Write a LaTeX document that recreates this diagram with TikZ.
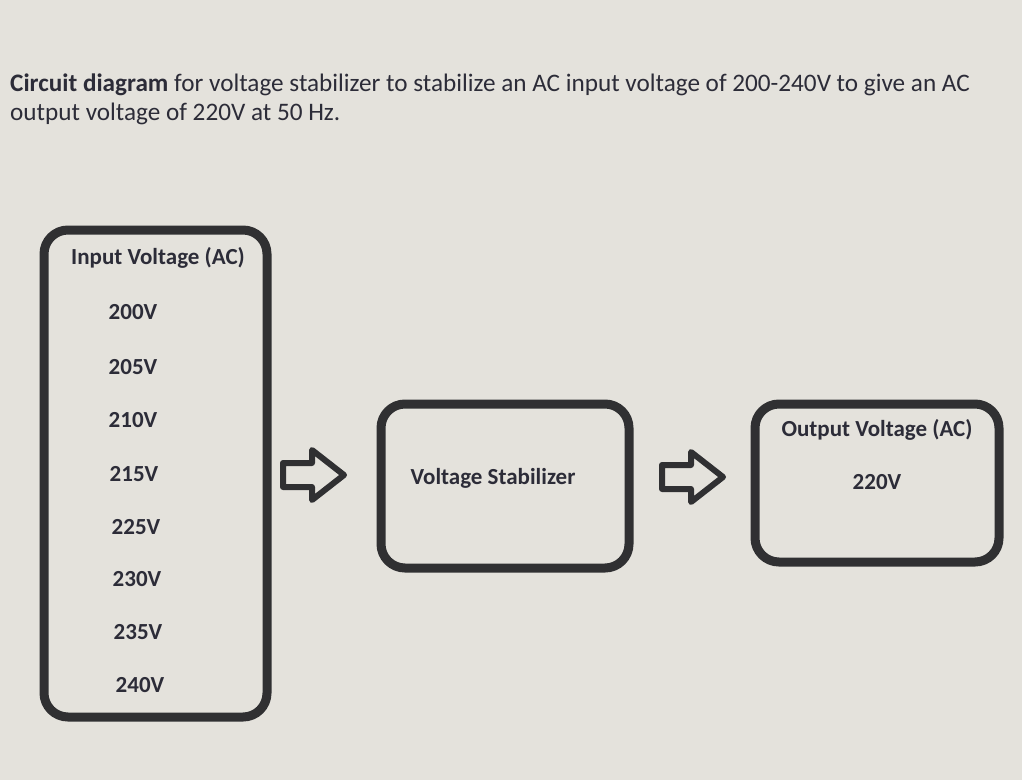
\documentclass[tikz,border=0pt]{standalone}
\usepackage{fontspec}
\setmainfont{Carlito}
\definecolor{bgc}{HTML}{E4E2DC}
\definecolor{txt}{HTML}{2C2C38}
\definecolor{edge}{HTML}{303032}
\tikzset{
  blk/.style={draw=edge, line width=9pt, rounded corners=24pt},
  lbl/.style={text=txt, font=\fontsize{23}{26}\selectfont\bfseries, inner sep=0pt},
  ttl/.style={text=txt, font=\fontsize{25.2}{28}\selectfont, anchor=west, inner sep=0pt},
  barrow/.style={draw=edge, line width=6pt, line join=round}
}
\begin{document}
\begin{tikzpicture}[x=1pt,y=-1pt]
\fill[bgc] (0,0) rectangle (1022,780);
\useasboundingbox (0,0) rectangle (1022,780);
\node[ttl] (t1) at (10,85) {\textbf{Circuit diagram} for voltage stabilizer to stabilize an AC input voltage of 200-240V to give an AC};
\node[ttl] (t2) at (10,114) {output voltage of 220V at 50 Hz.};
% boxes
\draw[blk] (44,230) rectangle (267,717);
\draw[blk] (381,404) rectangle (629,568);
\draw[blk] (755,404) rectangle (999,562);
% input texts
\node[lbl] (inh) at (158,258) {Input Voltage (AC)};
\node[lbl] (v200) at (133,312) {200V};
\node[lbl] (v205) at (133,367) {205V};
\node[lbl] (v210) at (133,420) {210V};
\node[lbl] (v215) at (134,474) {215V};
\node[lbl] (v225) at (136,527) {225V};
\node[lbl] (v230) at (137,579) {230V};
\node[lbl] (v235) at (138,632) {235V};
\node[lbl] (v240) at (140,685) {240V};
% stabilizer
\node[lbl] (st) at (493,478) {Voltage Stabilizer};
% output
\node[lbl] (oh) at (877,430) {Output Voltage (AC)};
\node[lbl] (o220) at (877,482) {220V};
% block arrows
\coordinate (a1) at (313,475);
\coordinate (a2) at (692,477);
\foreach \c in {a1,a2}{
  \draw[barrow, shift={(\c)}] (-30,-12) -- (-1,-12) -- (-1,-25) -- (31,0) -- (-1,25) -- (-1,12) -- (-30,12) -- cycle;
}
\end{tikzpicture}
\end{document}
